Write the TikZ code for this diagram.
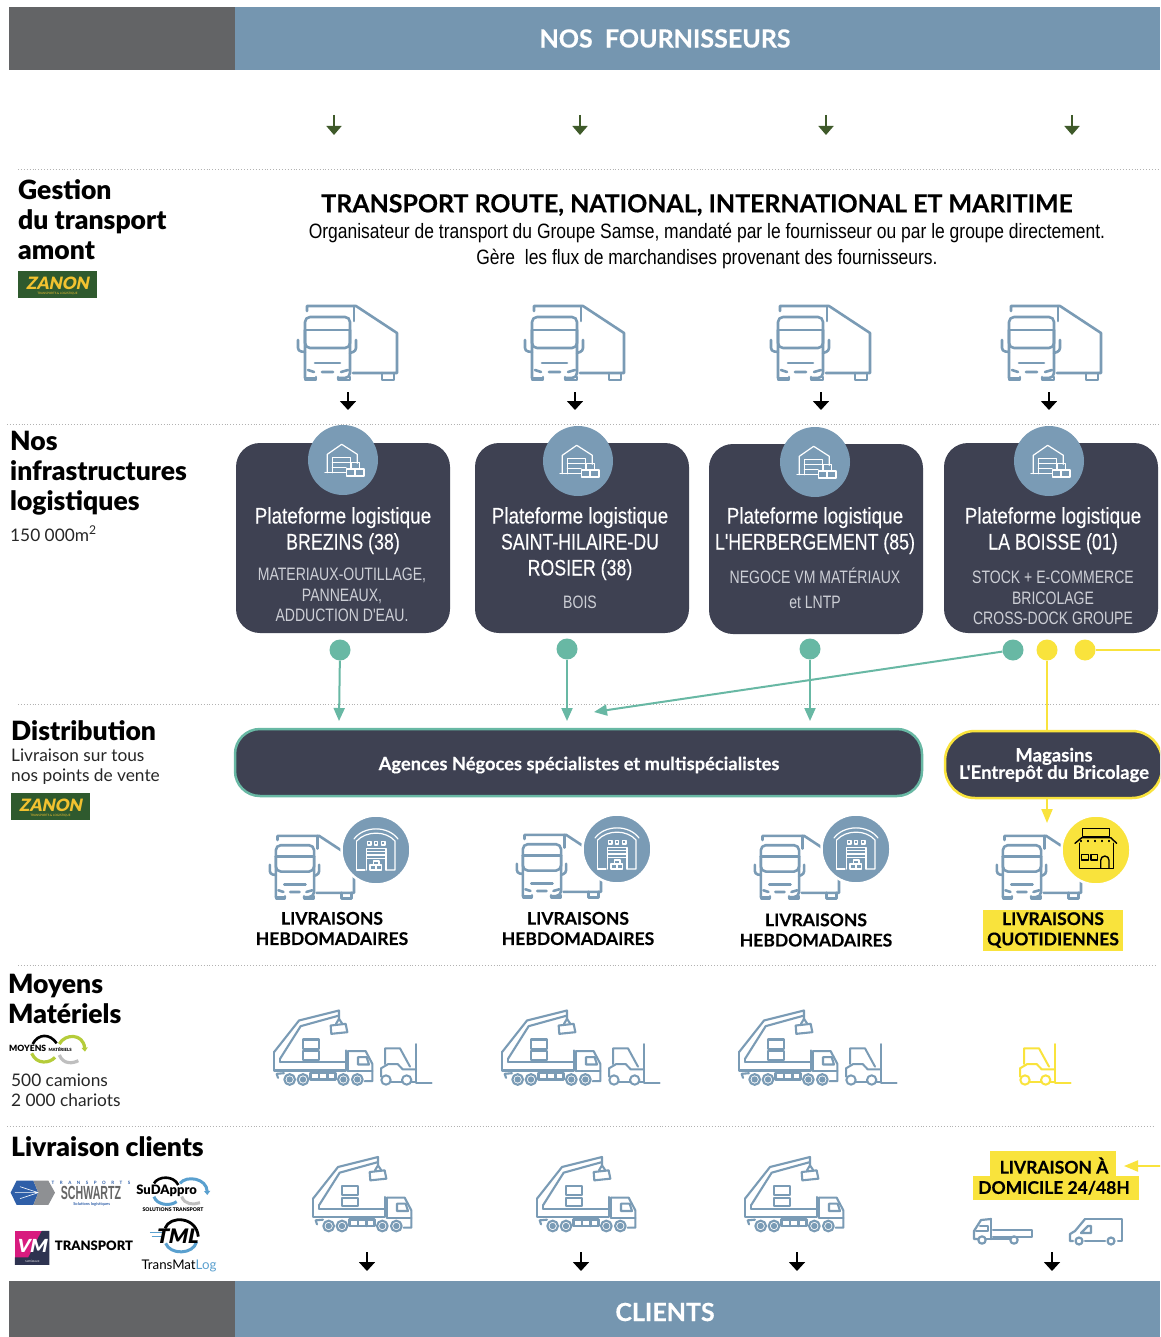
\documentclass[tikz,border=0pt]{standalone}
\usepackage{fontspec}
\usetikzlibrary{arrows.meta,shapes.geometric}
\setmainfont{Lato}
\newfontfamily\heavyf{Lato Black}
\newfontfamily\boldf{Lato Bold}
\newfontfamily\boldbf[FakeBold=0.3]{Lato Bold}
\newfontfamily\regf{Lato}
\newfontfamily\slantf[FakeSlant=0.2]{Lato Black}
\newfontfamily\narrowf[FakeStretch=0.84]{Liberation Sans}
\newfontfamily\ptf[FakeStretch=0.84,FakeBold=0.25]{Liberation Sans}
\newfontfamily\capf[FakeStretch=0.79,FakeBold=0.25]{Liberation Sans}
\newfontfamily\subf[FakeStretch=0.78]{Liberation Sans}
\newfontfamily\narrowbf[FakeStretch=0.56]{Liberation Sans Bold}
\definecolor{bandblue}{HTML}{7596B0}
\definecolor{bandgray}{HTML}{636466}
\definecolor{darkbox}{HTML}{3E4152}
\definecolor{teal1}{HTML}{68B8A4}
\definecolor{yel}{HTML}{F9E33C}
\definecolor{icb}{HTML}{7A9BB5}
\definecolor{arrowgreen}{HTML}{3F5A2A}
\definecolor{subtxt}{HTML}{CDCFD6}
\definecolor{zanonfill}{HTML}{2F5A2E}
\definecolor{zanonyel}{HTML}{F2C230}
\definecolor{logoblue}{HTML}{2F5FA8}
\definecolor{logogray}{HTML}{8E9093}
\definecolor{lightblue}{HTML}{5AA0CF}
\definecolor{lime}{HTML}{B5CC3A}
\definecolor{vmpink}{HTML}{D81B7F}
\definecolor{vmdark}{HTML}{2E3350}
\tikzset{
 ic/.style={line width=#1,line cap=round,line join=round},
 bandlabel/.style={text=white,font=\boldbf\fontsize{25}{28}\selectfont},
 sep/.style={draw=black!30,line width=.9pt,dotted},
 smallarrow/.style={line width=1.7pt,arrowgreen,-{Triangle[width=15pt,length=9pt]}},
 blackarrow/.style={line width=1.7pt,black,-{Triangle[width=16pt,length=9pt]}},
 platbox/.style={fill=darkbox,rounded corners=24pt},
 platdisc/.style={circle,fill=icb,minimum size=70pt,inner sep=0},
 deldisc/.style={circle,fill=icb,minimum size=69pt,inner sep=0,draw=white,line width=2.5pt},
 yeldisc/.style={circle,fill=yel,minimum size=69pt,inner sep=0,draw=white,line width=2.5pt},
 ptitle/.style={text=white,align=center,font=\ptf\fontsize{22.5}{26}\selectfont,inner sep=0},
 psub/.style={text=subtxt,align=center,font=\subf\fontsize{18}{20.4}\selectfont,inner sep=0},
 head/.style={anchor=north west,align=left,inner sep=0,font=\heavyf\fontsize{26.5}{30}\selectfont},
 body/.style={anchor=north west,align=left,inner sep=0,font=\regf\fontsize{17.3}{20.4}\selectfont,text=black!85},
 dot/.style={circle,minimum size=21pt,inner sep=0},
 tealline/.style={draw=teal1,line width=2pt,-{Triangle[width=11pt,length=13pt]}},
 yelline/.style={draw=yel,line width=2pt},
 yelarrow/.style={draw=yel,line width=2pt,-{Triangle[width=11pt,length=14pt]}},
 deltxt/.style={align=center,inner sep=0,font=\boldbf\fontsize{17.5}{20.3}\selectfont},
 truck/.pic={
  \begin{scope}[ic=2.6pt]
   \draw[rounded corners=5pt] (8,73)--(8,12)--(53,12)--(53,73)--(41,73);
   \draw (8,73)--(19,73);
   \draw[rounded corners=5pt] (8,25)--(8,43)--(53,43)--(53,25);
   \draw (8,25)--(53,25);
   \draw[rounded corners=3pt] (1,35)--(1,46)--(8,47);
   \draw[rounded corners=3pt] (59,35)--(59,46)--(53,48);
   \draw (18,58)--(43,58);
   \draw (11,65)--(17,67) (25,67)--(36,67) (44,67)--(51,65);
   \draw (8,73)--(8,75)--(19,75)--(19,72);
   \draw (41,72)--(41,75)--(53,75)--(53,72);
   \draw (10,6)--(10,1)--(59,1)--(100,28)--(100,68)--(56,68);
   \draw (57,1)--(57,16);
   \draw (85,68)--(85,75)--(97,75)--(97,68);
  \end{scope}},
 crane/.pic={
  \begin{scope}[shift={(-40,-50)},ic=2.1pt]
   \draw (40,175)--(115,80)--(235,50)--(235,75);
   \draw (58,195)--(120,97)--(232,66);
   \draw (40,175)--(40,230)--(255,230)--(255,170);
   \draw (58,205)--(255,205) (58,195)--(58,205);
   \draw (262,172)--(315,172)--(335,210)--(335,262)--(312,262);
   \draw (262,172)--(262,232);
   \draw (292,190)--(318,190)--(325,212)--(292,212)--cycle;
   \draw (210,95)--(255,90)--(260,115)--(212,120)--cycle;
   \draw (226,90)--(235,75)--(245,90);
   \draw (127,137) rectangle (175,165);
   \draw (127,172) rectangle (175,198);
   \draw (48,240)--(70,238) (48,240)--(52,252);
   \draw[line width=2.4pt] (150,238) rectangle (225,257) (175,238)--(175,257) (200,238)--(200,257);
   \draw (262,232)--(335,232);
   \foreach \wx in {87,127,248,290}{
    \draw[fill=white] (\wx,257) circle (16);
    \fill (\wx,257) circle (9.5);
   }
  \end{scope}},
 forklift/.pic={
  \begin{scope}[shift={(-1143,-222)},ic=2pt]
   \draw (1248,222)--(1248,340)--(1295,340);
   \draw (1155,282)--(1155,235)--(1200,235)--(1230,290);
   \draw (1143,320)--(1143,295)--(1165,282)--(1193,282)--(1208,298)--(1248,298);
   \draw (1158,330) circle (14);
   \draw (1220,330) circle (14);
   \draw (1172,335)--(1206,335) (1234,335)--(1248,335);
  \end{scope}},
 platicon/.pic={
  \begin{scope}[ic=1.2pt,white]
   \draw (-15.7,12.7)--(-15.7,-5.7)--(-1.3,-15.7)--(14.3,-5.7)--(14.3,3.3);
   \draw (-18,12.7)--(3,12.7);
   \draw (-10.7,12.7)--(-10.7,-2.7)--(7.7,-2.7)--(7.7,2.7);
   \draw (-10.7,2.7)--(7,2.7) (-10.7,7.7)--(3,7.7);
   \draw (3.3,9) rectangle (21,16) (12,9)--(12,16);
   \draw (8,2.7) rectangle (16.7,9);
  \end{scope}},
 depoticon/.pic={
  \begin{scope}[ic=1.2pt,white]
   \draw (-22,-11) .. controls (-12,-24.5) and (12,-24.5) .. (22,-11);
   \draw (-19.3,-9) .. controls (-10,-19.5) and (10,-19.5) .. (19,-9)--(19,20)--(10,20);
   \draw (-19.3,-9)--(-19.3,20)--(-11,20);
   \draw (-9.3,20)--(-9.3,-1.7)--(10,-1.7)--(10,20);
   \draw (-9.3,1.7)--(10,1.7) (-9.3,5)--(10,5) (-9.3,8.3)--(10,8.3);
   \foreach \wx in {-6.7,0,7.3}{\draw (\wx-1.7,-8.5) rectangle (\wx+1.7,-5);}
   \draw (-6,15) rectangle (0,20) (0,15) rectangle (5.7,20) (-2.7,11) rectangle (3,15);
  \end{scope}},
 storeicon/.pic={
  \begin{scope}[ic=1.4pt,black]
   \draw (-13.3,-21.7) rectangle (13.3,-13.3);
   \draw (-21,-6.7)--(-14.3,-12.3)--(14.7,-12.3)--(20.7,-6.7);
   \draw (-15,-9.5)--(-15,-8.5) (-8,-9.5)--(-8,-8.5) (-1,-9.5)--(-1,-8.5) (6,-9.5)--(6,-8.5) (13,-9.5)--(13,-8.5);
   \draw (-16.7,-6.7)--(-16.7,18.3)--(17.3,18.3)--(17.3,-6.7);
   \draw (-14.3,4.3) rectangle (-7.7,10) (-5,4.3) rectangle (1.7,10);
   \draw (4.7,18.3)--(4.7,10.2) arc (180:360:4.15)--(13,18.3);
  \end{scope}},
 flatbed/.pic={
  \begin{scope}[ic=2.2pt]
   \draw (18,0)--(8,1)--(1,12)--(1,20)--(5,20);
   \draw (18,0)--(18,20);
   \draw (20,11)--(59,11)--(59,18)--(20,18);
   \draw (13,20)--(37,20);
   \draw (7,7)--(15,7)--(15,12)--(3,12);
   \draw (9,21) circle (3.7) (41,21) circle (3.7);
  \end{scope}},
 van/.pic={
  \begin{scope}[ic=2.2pt]
   \draw (16,0)--(53,0)--(53,22)--(49,22);
   \draw (16,0)--(6,12)--(1,15)--(1,22)--(4,22);
   \draw (12,14)--(19,7)--(22,7)--(22,14)--cycle;
   \draw (16,22)--(36,22);
   \draw (10,22) circle (3.5) (42,22) circle (3.5);
  \end{scope}}
}
\begin{document}
\begin{tikzpicture}[x=1pt,y=-1pt]
\clip (0,0) rectangle (1160,1337);
\fill[white] (0,0) rectangle (1160,1337);
% bands
\fill[bandgray] (9,7) rectangle (235,70);
\fill[bandblue] (235,7) rectangle (1160,70);
\node[bandlabel] (fourn) at (665,38.5) {NOS\ \ FOURNISSEURS};
\fill[bandgray] (9,1281) rectangle (235,1337);
\fill[bandblue] (235,1281) rectangle (1160,1337);
\node[bandlabel] (clients) at (665,1312) {CLIENTS};
% separators
\draw[sep] (18,169)--(1160,169);
\draw[sep] (7,424)--(1160,424);
\draw[sep] (18,704)--(1160,704);
\draw[sep] (18,965)--(1155,965);
\draw[sep] (7,1126)--(1155,1126);
% green arrows
\foreach \n/\xx in {1/334,2/580,3/826,4/1072}{
 \coordinate (ga\n) at (\xx,115); \coordinate (gb\n) at (\xx,135);
 \draw[smallarrow] (ga\n)--(gb\n);
}
% section headings
\node[head] (h1) at (18,179) {Gestion\\du transport\\amont};
\node[head] (h2) at (10,430.5) {Nos\\infrastructures\\logistiques};
\node[body] (b2) at (10,526) {150 000m\textsuperscript{2}};
\node[head] (h3) at (11,720) {Distribution};
\node[body] (b3) at (11,748.5) {Livraison sur tous\\nos points de vente};
\node[head] (h4) at (8,974) {Moyens\\Matériels};
\node[body] (b4) at (11,1073.5) {500 camions\\2 000 chariots};
\node[head] (h5) at (11,1136) {Livraison clients};
% Zanon logos
\foreach \n/\xx/\yy in {a/18/271,b/11/793}{
 \fill[zanonfill] (\xx,\yy) rectangle ++(79,27);
 \node[text=zanonyel,font=\slantf\fontsize{17}{17}\selectfont,inner sep=0] (zan\n) at (\xx+39.5,\yy+12) {ZANON};
 \node[text=zanonyel,font=\regf\fontsize{3}{3}\selectfont,inner sep=0] (zans\n) at (\xx+39.5,\yy+22.5) {TRANSPORTS \& LOGISTIQUE};
}
% main title
\node[inner sep=0,font=\boldbf\fontsize{24.9}{28}\selectfont] (ttl) at (697,205) {TRANSPORT ROUTE, NATIONAL, INTERNATIONAL ET MARITIME};
\node[inner sep=0,font=\narrowf\fontsize{20.8}{24}\selectfont] (st1) at (707,233.5) {Organisateur de transport du Groupe Samse, mandaté par le fournisseur ou par le groupe directement.};
\node[inner sep=0,font=\narrowf\fontsize{20.8}{24}\selectfont] (st2) at (707,259.5) {Gère\ \ les flux de marchandises provenant des fournisseurs.};
% trucks and arrows to platforms
\foreach \xx in {297,524,770,1001}{ \pic[color=icb] at (\xx,305) {truck}; }
\foreach \n/\xx in {1/348,2/575,3/821,4/1049}{
 \coordinate (ka\n) at (\xx,392); \coordinate (kb\n) at (\xx,410);
 \draw[blackarrow] (ka\n)--(kb\n);
}
% platforms
\path[platbox] (236,443) rectangle (450,633);
\path[platbox] (475,443) rectangle (689,633);
\path[platbox] (709,444) rectangle (923,634);
\path[platbox] (944,443) rectangle (1158,633);
\node[platdisc] (p1) at (343,460) {};
\node[platdisc] (p2) at (578,461) {};
\node[platdisc] (p3) at (815,462) {};
\node[platdisc] (p4) at (1049,461) {};
\pic at (p1) {platicon}; \pic at (p2) {platicon}; \pic at (p3) {platicon}; \pic at (p4) {platicon};
\node[ptitle,anchor=north] (t1) at (343,507) {Plateforme logistique\\{\capf BREZINS (38)}};
\node[ptitle,anchor=north] (t2) at (580,507) {Plateforme logistique\\{\capf SAINT-HILAIRE-DU}\\{\capf ROSIER (38)}};
\node[ptitle,anchor=north] (t3) at (815,507) {Plateforme logistique\\{\capf L'HERBERGEMENT (85)}};
\node[ptitle,anchor=north] (t4) at (1053,507) {Plateforme logistique\\{\capf LA BOISSE (01)}};
\node[psub,anchor=north] (s1) at (342,568) {MATERIAUX-OUTILLAGE,\\PANNEAUX,\\ADDUCTION D'EAU.};
\node[psub,anchor=north] (s2) at (580,596) {BOIS};
\node[psub,anchor=north,font=\subf\fontsize{18}{25.5}\selectfont] (s3) at (815,567.5) {NEGOCE VM MATÉRIAUX\\et LNTP};
\node[psub,anchor=north] (s4) at (1053,571) {STOCK + E-COMMERCE\\BRICOLAGE\\CROSS-DOCK GROUPE};
% distribution boxes
\draw[fill=darkbox,draw=teal1,line width=2.5pt,rounded corners=25pt] (235,729) rectangle (922,796);
\node[text=white,inner sep=0,font=\boldbf\fontsize{18.3}{20}\selectfont] (ag) at (579,765) {Agences Négoces spécialistes et multispécialistes};
\draw[fill=darkbox,draw=yel,line width=2.5pt,rounded corners=30pt] (945,731) rectangle (1162,798);
\node[text=white,inner sep=0,align=center,font=\boldbf\fontsize{18.5}{17.3}\selectfont] (mag) at (1054,765) {Magasins\\L'Entrepôt du Bricolage};
% dots & connectors
\node[dot,fill=teal1] (d1) at (340,650) {};
\node[dot,fill=teal1] (d2) at (567,649) {};
\node[dot,fill=teal1] (d3) at (810,649) {};
\node[dot,fill=teal1] (d4) at (1013,650) {};
\node[dot,fill=yel] (y1) at (1047,650) {};
\node[dot,fill=yel] (y2) at (1085,650) {};
\coordinate (e1) at (339,721); \coordinate (e2) at (567,721); \coordinate (e3) at (810,721); \coordinate (e4) at (594,712);
\draw[tealline] (d1)--(e1);
\draw[tealline] (d2)--(e2);
\draw[tealline] (d3)--(e3);
\draw[tealline] (d4)--(e4);
\coordinate (ym) at (1047,731); \coordinate (ym2) at (1047,798); \coordinate (ya) at (1047,823);
\coordinate (yr) at (1162,650);
\draw[yelline] (y1)--(ym);
\draw[yelarrow] (ym2)--(ya);
\draw[yelline] (y2)--(yr);
% delivery trucks
\pic[color=icb,scale=.85] at (269,835) {truck};
\pic[color=icb,scale=.85] at (516,834) {truck};
\pic[color=icb,scale=.85] at (754,835) {truck};
\pic[color=icb,scale=.85] at (996,835) {truck};
\node[deldisc] (c1) at (376,850) {};
\node[deldisc] (c2) at (617,849) {};
\node[deldisc] (c3) at (856,849) {};
\node[yeldisc] (c4) at (1096,850) {};
\pic at (c1) {depoticon}; \pic at (c2) {depoticon}; \pic at (c3) {depoticon}; \pic at (c4) {storeicon};
\node[deltxt] (l1) at (332,928.5) {LIVRAISONS\\HEBDOMADAIRES};
\node[deltxt] (l2) at (578,928.5) {LIVRAISONS\\HEBDOMADAIRES};
\node[deltxt] (l3) at (816,930) {LIVRAISONS\\HEBDOMADAIRES};
\fill[yel] (983,910) rectangle (1123,951);
\node[deltxt] (l4) at (1053,930) {LIVRAISONS\\QUOTIDIENNES};
% moyens row
\foreach \xx in {274,502,739}{ \pic[color=icb,scale=.3333] at (\xx,1010.5) {crane}; }
\foreach \xx in {381,609,846}{ \pic[color=icb,scale=.3333] at (\xx,1044) {forklift}; }
\pic[color=yel,scale=.3333] at (1020,1044) {forklift};
% livraison row
\foreach \xx in {313,537,745}{ \pic[color=icb,scale=.3333] at (\xx,1157) {crane}; }
\foreach \n/\xx in {1/367,2/581,3/797,4/1052}{
 \coordinate (ma\n) at (\xx,1252); \coordinate (mb\n) at (\xx,1271);
 \draw[blackarrow] (ma\n)--(mb\n);
}
\fill[yel] (990,1151) rectangle (1116,1176);
\fill[yel] (973,1176) rectangle (1139,1200);
\node[deltxt] (dom) at (1054,1176) {LIVRAISON À\\DOMICILE 24/48H};
\coordinate (yfrom) at (1162,1166); \coordinate (yto) at (1124,1166);
\draw[yelarrow] (yfrom)--(yto);
\pic[color=icb] at (973,1219) {flatbed};
\pic[color=icb] at (1069,1219) {van};
% logos (coordinates in 3x crop units)
\begin{scope}[shift={(0,970)},x=.3333pt,y=-.3333pt]
 % Moyens
 \draw[line width=2.6pt,black] (98,222) .. controls (115,190) and (150,190) .. (170,220);
 \draw[line width=3.2pt,lime] (95,250) .. controls (110,285) and (150,280) .. (165,262);
 \draw[line width=3.2pt,lime,-{Triangle[width=6pt,length=4pt]}] (178,222) .. controls (195,190) and (250,190) .. (255,245);
 \draw[line width=3.2pt,black!25] (178,255) .. controls (190,285) and (220,280) .. (235,272);
 \node[inner sep=0,anchor=west,font=\heavyf\fontsize{8.6}{9}\selectfont] (mo) at (27,235) {MOYENS};
 \node[inner sep=0,anchor=west,font=\heavyf\fontsize{4.3}{5}\selectfont] (mm) at (145,238) {MATÉRIELS};
 % Schwartz
 \fill[logoblue] (50,632)--(100,632)--(115,668)--(100,705)--(50,705)--(32,668)--cycle;
 \fill[logogray] (100,632)--(145,632)--(165,668)--(145,705)--(100,705)--(115,668)--cycle;
 \draw[white,line width=.6pt] (45,668)--(115,668) (60,650)--(115,668) (60,686)--(115,668);
 \node[inner sep=0,text=logoblue,font=\boldf\fontsize{4.5}{5}\selectfont] (sc1) at (273,639) {T\hspace{5.5pt}R\hspace{5.5pt}A\hspace{5.5pt}N\hspace{5.5pt}S\hspace{5.5pt}P\hspace{5.5pt}O\hspace{5.5pt}R\hspace{5.5pt}T\hspace{5.5pt}S};
 \node[inner sep=0,text=black!60,font=\narrowbf\fontsize{19}{19}\selectfont] (sc2) at (273,670) {SCHWARTZ};
 \node[inner sep=0,text=logoblue,font=\boldf\fontsize{4}{4.5}\selectfont] (sc3) at (275,703) {Solutions logistiques};
 % SudAppro
 \draw[line width=2.6pt,black] (462,640) .. controls (475,618) and (520,615) .. (535,645);
 \draw[line width=3pt,lightblue,-{Triangle[width=6pt,length=4pt]}] (540,640) .. controls (560,615) and (620,625) .. (622,675);
 \draw[line width=3pt,lightblue] (462,680) .. controls (470,705) and (510,710) .. (530,695);
 \draw[line width=3pt,black!25] (545,680) .. controls (555,705) and (580,705) .. (600,698);
 \node[inner sep=0,font=\heavyf\fontsize{13}{14}\selectfont] (su) at (500,661) {SuDAppro};
 \node[inner sep=0,font=\heavyf\fontsize{5.1}{6}\selectfont] (su2) at (519,720) {SOLUTIONS TRANSPORT};
 % VM
 \fill[vmpink] (45,783) rectangle (148,885);
 \fill[vmdark] (125,783)--(148,783)--(148,885)--(45,885)--(45,862)--(85,862)--cycle;
 \node[inner sep=0,text=white,font=\slantf\fontsize{18}{18}\selectfont] (vm) at (95,828) {VM};
 \node[inner sep=0,text=white,font=\regf\fontsize{2.5}{3}\selectfont] (vm2) at (97,873) {MATÉRIAUX};
 \node[inner sep=0,font=\heavyf\fontsize{13}{14}\selectfont] (vt) at (282,828) {TRANSPORT};
 % TML
 \draw[line width=2.8pt,black] (495,775) .. controls (510,735) and (590,740) .. (595,800);
 \draw[line width=3pt,lightblue] (497,820) .. controls (510,855) and (580,855) .. (590,815);
 \draw[line width=1.4pt,lightblue] (450,787)--(490,787) (455,800)--(485,800);
 \node[inner sep=0,font=\slantf\fontsize{20}{21}\selectfont] (tm) at (530,798) {TML};
 \node[inner sep=0,font=\regf\fontsize{13.3}{16}\selectfont] (tr) at (537,887) {TransMat\textcolor{lightblue}{Log}};
\end{scope}
\end{tikzpicture}
\end{document}
